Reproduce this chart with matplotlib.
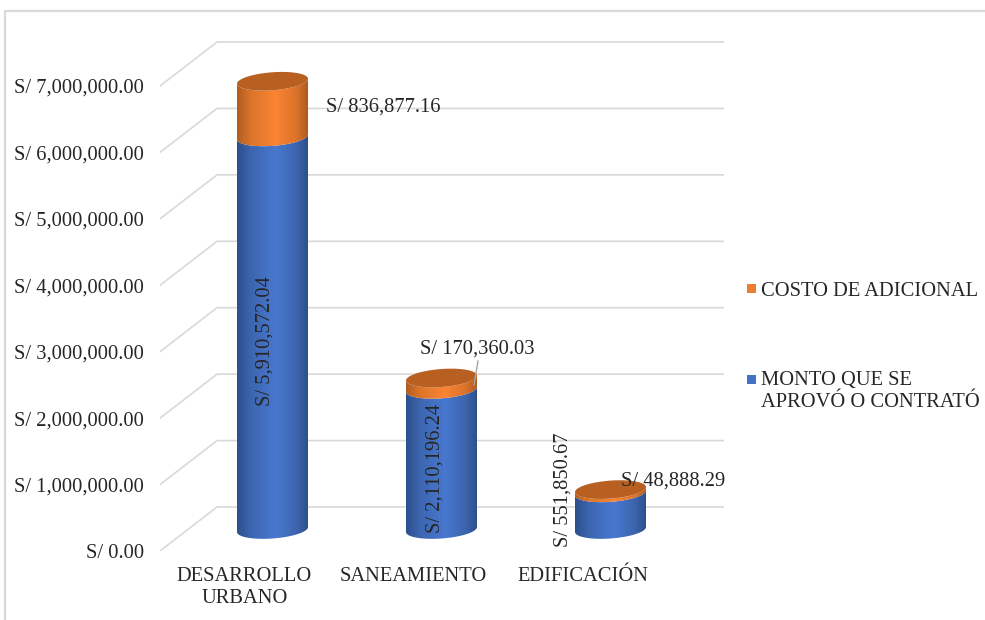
import numpy as np
import matplotlib
matplotlib.use("Agg")
import matplotlib.pyplot as plt
from matplotlib.colors import LinearSegmentedColormap
from matplotlib.lines import Line2D
from matplotlib.patches import PathPatch, Polygon, Rectangle
from matplotlib.path import Path

categorias = ["DESARROLLO\nURBANO", "SANEAMIENTO", "EDIFICACIÓN"]
monto = [5910572.04, 2110196.24, 551850.67]
adicional = [836877.16, 170360.03, 48888.29]
ticks = [0, 1000000, 2000000, 3000000, 4000000, 5000000, 6000000, 7000000]
nombre_monto = "MONTO QUE SE\nAPROVÓ O CONTRATÓ"
nombre_adicional = "COSTO DE ADICIONAL"

plt.rcParams["font.family"] = ["Liberation Serif", "DejaVu Serif"]
FS = 14.8
TXT = "#262626"
GRID = "#d9d9d9"

W, H = 985, 620
fig = plt.figure(figsize=(W / 100, H / 100), dpi=100)

# escala en pixeles del plano frontal
PX_CAT = 169.0
PX_VAL = 66.43 / 1e6
LEFT, RIGHT, BOTTOM, TOP = 160, 724, 551, 40
ax = fig.add_axes([LEFT / W, 1 - BOTTOM / H, (RIGHT - LEFT) / W, (BOTTOM - TOP) / H])
x0 = 272.5
ax.set_xlim((LEFT - x0) / PX_CAT, (RIGHT - x0) / PX_CAT)
ax.set_ylim(0, (BOTTOM - TOP) / PX_VAL)
for s in ax.spines.values():
    s.set_visible(False)


def dx(px):
    return px / PX_CAT


def dy(px):
    return px / PX_VAL


# paredes con las lineas de la grilla
x_izq = ax.get_xlim()[0]
x_der = ax.get_xlim()[1]
for v in ticks:
    ax.plot([x_izq, x_izq + dx(57), x_der], [v, v + dy(44), v + dy(44)],
            color=GRID, lw=1.2, zorder=1, solid_joinstyle="miter")

ax.set_yticks(ticks)
ax.set_yticklabels(["S/ {:,.2f}".format(v) for v in ticks], fontsize=FS, color=TXT)
pos = np.arange(len(categorias))
ax.set_xticks(pos - dx(28))
ax.set_xticklabels(categorias, fontsize=FS, color=TXT, linespacing=1.2)
ax.tick_params(axis="y", length=0, pad=11.5)
ax.tick_params(axis="x", length=0, pad=11.5)

cmap_azul = LinearSegmentedColormap.from_list(
    "azul", [(0, "#2c4f8c"), (0.2, "#3d66b0"), (0.55, "#4878d0"), (0.85, "#3c64ac"), (1, "#2d4f8b")])
cmap_nar = LinearSegmentedColormap.from_list(
    "nar", [(0, "#b05c20"), (0.2, "#dc752b"), (0.55, "#fb8433"), (0.85, "#d9722a"), (1, "#ae5a1f")])
COLOR_TAPA = "#b85f22"

A = 35.5   # semieje horizontal
B = 9.0    # semieje vertical
S = 2.5    # inclinacion de la elipse
BASE = dy(21.5)  # el centro de la base queda detras del plano frontal


def arco(c, v, t):
    x = c + dx(A * np.cos(t))
    y = v + BASE + dy(B * np.sin(t) + S * np.cos(t))
    return np.column_stack([x, y])


def cuerpo(c, v1, v2, cmap):
    t = np.linspace(np.pi, 2 * np.pi, 60)
    pts = np.vstack([arco(c, v1, t), arco(c, v2, t[::-1])])
    parche = PathPatch(Path(np.vstack([pts, pts[0]]), closed=True),
                       transform=ax.transData, fc="none", ec="none")
    ax.add_patch(parche)
    grad = np.linspace(0, 1, 256).reshape(1, -1)
    im = ax.imshow(grad, cmap=cmap, aspect="auto", zorder=3, interpolation="bilinear",
                   extent=[c - dx(A), c + dx(A), pts[:, 1].min(), pts[:, 1].max()])
    im.set_clip_path(parche)


for c, m, a in zip(pos, monto, adicional):
    cuerpo(c, 0, m, cmap_azul)
    cuerpo(c, m, m + a, cmap_nar)
    t = np.linspace(0, 2 * np.pi, 120)
    ax.add_patch(Polygon(arco(c, m + a, t), closed=True, fc=COLOR_TAPA, ec="none", zorder=4))

ax.set_xlim((LEFT - x0) / PX_CAT, (RIGHT - x0) / PX_CAT)
ax.set_ylim(0, (BOTTOM - TOP) / PX_VAL)


def fx(px):
    return px / W


def fy(py):
    return 1 - py / H


def etiqueta(px, py, txt, rot=0, ha="center"):
    fig.text(fx(px), fy(py), txt, fontsize=FS, color=TXT, rotation=rot, ha=ha, va="center", zorder=6)


etiqueta(265, 341, "S/ {:,.2f}".format(monto[0]), rot=90)
etiqueta(435, 468, "S/ {:,.2f}".format(monto[1]), rot=90)
etiqueta(563, 490, "S/ {:,.2f}".format(monto[2]), rot=90)
etiqueta(326, 107, "S/ {:,.2f}".format(adicional[0]), ha="left")
etiqueta(477, 349, "S/ {:,.2f}".format(adicional[1]))
etiqueta(673, 481, "S/ {:,.2f}".format(adicional[2]))

# linea guia de la etiqueta de saneamiento
fig.add_artist(Line2D([fx(478), fx(474)], [fy(361), fy(385)], color="#a6a6a6", lw=1))

# leyenda
fig.add_artist(Rectangle((fx(747), fy(293)), 9 / W, 9 / H, color="#ed7d31", lw=0))
fig.add_artist(Rectangle((fx(747), fy(384)), 9 / W, 9 / H, color="#4472c4", lw=0))
etiqueta(761, 291, nombre_adicional, ha="left")
fig.text(fx(761), fy(371), nombre_monto, fontsize=FS, color=TXT, ha="left", va="top", linespacing=1.2)

# borde del grafico
fig.add_artist(Line2D([fx(5), fx(5), 1], [0, fy(11), fy(11)], color=GRID, lw=1.6))

fig.savefig("out.png", dpi=100)
